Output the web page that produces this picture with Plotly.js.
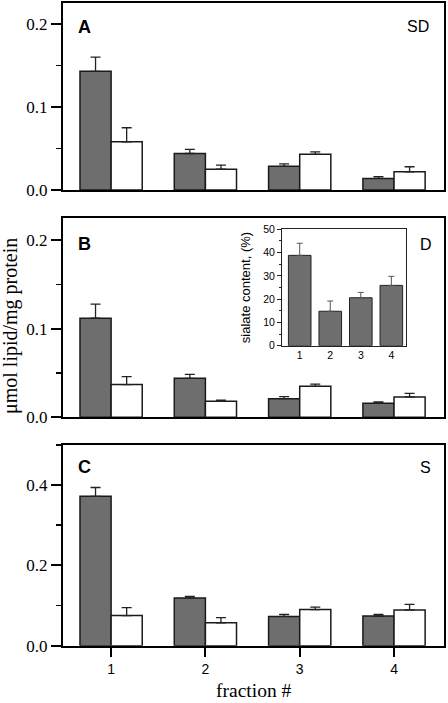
<!DOCTYPE html>
<html>
<head>
<meta charset="utf-8">
<script src="https://cdn.plot.ly/plotly-3.0.1.min.js"></script>
<style>html,body{margin:0;padding:0;background:#fff;}#chart{width:448px;height:703px;}</style>
</head>
<body>
<div id="chart"></div>
<script>
// ---- data ----
const fractions = [1, 2, 3, 4];
const fractionLabels = ['1', '2', '3', '4'];

const sdDark = [0.143, 0.044, 0.0285, 0.014];
const sdDarkErr = [0.017, 0.005, 0.003, 0.002];
const sdWhite = [0.058, 0.025, 0.043, 0.022];
const sdWhiteErr = [0.017, 0.005, 0.003, 0.006];

const dDark = [0.112, 0.044, 0.021, 0.016];
const dDarkErr = [0.016, 0.0045, 0.0023, 0.0015];
const dWhite = [0.037, 0.018, 0.035, 0.023];
const dWhiteErr = [0.009, 0.0015, 0.0026, 0.004];

const sDark = [0.372, 0.119, 0.073, 0.074];
const sDarkErr = [0.022, 0.004, 0.005, 0.004];
const sWhite = [0.075, 0.057, 0.090, 0.089];
const sWhiteErr = [0.020, 0.013, 0.006, 0.014];

const sialate = [38.8, 14.8, 20.6, 25.9];
const sialateErr = [5.2, 4.4, 2.3, 3.9];

// ---- styles ----
const DARK = '#6e6e6e';
const SERIF = 'Liberation Serif, Times New Roman, serif';
const SANS = 'Liberation Sans, Arial, sans-serif';
const zeros = fractions.map(() => 0);

function barTrace(y, err, fill, xa, ya) {
  return {
    type: 'bar', x: fractions, y: y, xaxis: xa, yaxis: ya,
    marker: {color: fill, line: {color: '#1a1a1a', width: 1.5}},
    error_y: {type: 'data', symmetric: false, array: err, arrayminus: zeros,
              color: '#222', thickness: 1.3, width: 5},
    hoverinfo: 'skip'
  };
}

const traces = [
  barTrace(sdDark, sdDarkErr, DARK, 'x', 'y'),
  barTrace(sdWhite, sdWhiteErr, '#ffffff', 'x', 'y'),
  barTrace(dDark, dDarkErr, DARK, 'x2', 'y2'),
  barTrace(dWhite, dWhiteErr, '#ffffff', 'x2', 'y2'),
  barTrace(sDark, sDarkErr, DARK, 'x3', 'y3'),
  barTrace(sWhite, sWhiteErr, '#ffffff', 'x3', 'y3'),
  {
    type: 'bar', x: fractions, y: sialate, xaxis: 'x4', yaxis: 'y4', width: 0.74,
    marker: {color: DARK, line: {color: '#222', width: 1}},
    error_y: {type: 'data', symmetric: false, array: sialateErr, arrayminus: zeros,
              color: '#555', thickness: 1, width: 3},
    hoverinfo: 'skip'
  }
];

const W = 448, H = 703;
const px = v => v / W;
const py = v => 1 - v / H;

function mainX(showLabels) {
  return {
    domain: [px(63), px(444)], range: [0.49, 4.53],
    showline: true, mirror: true, linewidth: 2, linecolor: '#000',
    showgrid: false, zeroline: false,
    tickmode: 'array', tickvals: fractions, ticktext: fractionLabels,
    ticks: showLabels ? 'outside' : '', ticklen: 9, tickwidth: 2, tickcolor: '#000',
    showticklabels: showLabels,
    tickfont: {family: SANS, size: 14, color: '#000'},
    fixedrange: true
  };
}
function mainY(top, bottom, maxv, dtick) {
  return {
    domain: [py(bottom), py(top)], range: [0, maxv],
    showline: true, mirror: true, linewidth: 2, linecolor: '#000',
    showgrid: false, zeroline: false,
    dtick: dtick, tick0: 0, tickformat: '.1f',
    ticks: 'outside', ticklen: 10, tickwidth: 2, tickcolor: '#000',
    minor: {dtick: dtick / 2, ticks: 'outside', ticklen: 5, tickwidth: 1.5, tickcolor: '#000', showgrid: false},
    tickfont: {family: SERIF, size: 17, color: '#000'},
    fixedrange: true
  };
}

const layout = {
  width: W, height: H,
  margin: {l: 0, r: 0, t: 0, b: 0, pad: 0},
  paper_bgcolor: '#fff', plot_bgcolor: 'rgba(0,0,0,0)',
  showlegend: false,
  barmode: 'group', bargap: 0.34, bargroupgap: 0,
  xaxis: Object.assign(mainX(false), {anchor: 'y'}),
  yaxis: Object.assign(mainY(3, 190, 0.2253, 0.1), {anchor: 'x'}),
  xaxis2: Object.assign(mainX(false), {anchor: 'y2'}),
  yaxis2: Object.assign(mainY(218.3, 417.3, 0.2249, 0.1), {anchor: 'x2'}),
  xaxis3: Object.assign(mainX(true), {anchor: 'y3'}),
  yaxis3: Object.assign(mainY(444.7, 645.7, 0.5006, 0.2), {anchor: 'x3'}),
  xaxis4: {
    domain: [px(282), px(406)], range: [0.42, 4.48], anchor: 'y4',
    showline: true, mirror: true, linewidth: 1, linecolor: '#222',
    showgrid: false, zeroline: false,
    tickmode: 'array', tickvals: fractions, ticktext: fractionLabels,
    ticks: '', tickfont: {family: SANS, size: 10.5, color: '#000'},
    fixedrange: true
  },
  yaxis4: {
    domain: [py(345.7), py(229.3)], range: [0, 50], anchor: 'x4',
    showline: true, mirror: true, linewidth: 1, linecolor: '#222',
    showgrid: false, zeroline: false,
    dtick: 10, tick0: 0,
    ticks: 'outside', ticklen: 4, tickwidth: 1, tickcolor: '#222',
    minor: {dtick: 5, ticks: 'outside', ticklen: 2, tickwidth: 1, tickcolor: '#222', showgrid: false},
    tickfont: {family: SANS, size: 10.5, color: '#000'},
    title: {text: 'sialate content, (%)', font: {family: SANS, size: 13, color: '#000'}, standoff: 9},
    fixedrange: true
  },
  annotations: [
    {text: '<b>A</b>', x: px(84), y: py(27), font: {family: SANS, size: 18, color: '#000'}},
    {text: 'SD', x: px(417.5), y: py(26.5), font: {family: SANS, size: 16, color: '#000'}},
    {text: '<b>B</b>', x: px(84), y: py(243.5), font: {family: SANS, size: 18, color: '#000'}},
    {text: 'D', x: px(425.5), y: py(244), font: {family: SANS, size: 16, color: '#000'}},
    {text: '<b>C</b>', x: px(84), y: py(467), font: {family: SANS, size: 18, color: '#000'}},
    {text: 'S', x: px(425.5), y: py(467), font: {family: SANS, size: 16, color: '#000'}},
    {text: 'μmol lipid/mg protein', x: px(10), y: py(326), textangle: -90, font: {family: SERIF, size: 20, color: '#000'}},
    {text: 'fraction #', x: px(254), y: 0, yanchor: 'bottom', font: {family: SERIF, size: 19.5, color: '#000'}}
  ].map(a => Object.assign({xref: 'paper', yref: 'paper', showarrow: false, xanchor: 'center', yanchor: 'middle'}, a))
};

Plotly.newPlot('chart', traces, layout, {displayModeBar: false, staticPlot: true});
</script>
</body>
</html>
